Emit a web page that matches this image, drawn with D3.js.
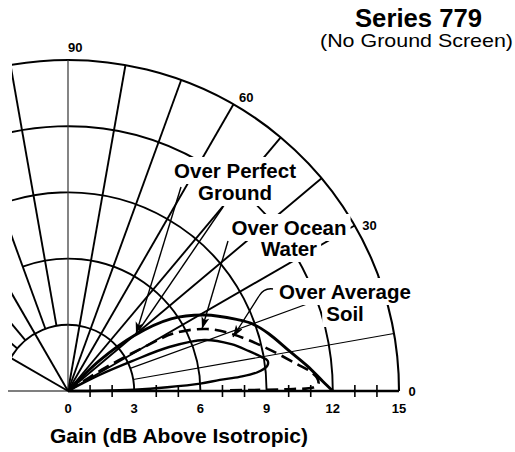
<!DOCTYPE html>
<html><head><meta charset="utf-8">
<script src="https://cdn.jsdelivr.net/npm/d3@7"></script>
<style>
body{margin:0;background:#fff}
svg{display:block}
text{font-family:"Liberation Sans",Arial,Helvetica,sans-serif;fill:#000}
</style>
</head><body>
<svg id="c" width="515" height="452"></svg>
<script>
// ---------- data ----------
const gainTicks = [0, 3, 6, 9, 12, 15];
const minorGainTicks = [1, 2, 4, 5, 7, 8, 10, 11, 13, 14];
const ringGains = [3, 6, 9, 12, 15];
const ringMaxAngles = [150, 110, 120, 120, 100];
const spokeAngles = [10, 20, 30, 40, 50, 60, 70, 80, 90, 100, 110, 120, 130, 140, 150];
const spokeInner = [3, 3, 0, 0, 0, 0, 0, 0, 0, 3, 3, 0, 3, 3, 0];
const spokeOuter = [15, 15, 15, 15, 15, 15, 15, 15, 15, 15, 15, 15, 15, 15, 3];
const angleLabels = ["0", "30", "60", "90"];
const angleLabelAngles = [0, 30, 60, 90];

// Over Perfect Ground (solid)
const perfectAngle = [0, 2.2, 6, 10.2, 16, 20, 23, 29, 35, 40, 44, 47];
const perfectGain  = [12, 11.55, 10.9, 10.2, 9.45, 8.9, 8.3, 7.1, 5.7, 3.9, 2.0, 0];
// Over Ocean Water (dashed)
const oceanAngle = [36, 32, 30, 28.5, 24, 19, 12.2, 6.7, 4.7, 3, 1.6, 0.8, 0.5, 0.35, 0.25];
const oceanGain  = [0, 2.0, 3.9, 5.5, 6.9, 7.9, 9.2, 10.45, 11.0, 11.3, 11.35, 11.1, 10.2, 9.0, 7.3];
// Over Average Soil (solid lobe)
const soilAngle = [30, 27, 25, 23.5, 20.5, 16, 12.4, 10, 8.6, 7.2, 5.6, 4.7, 4.2, 3.2, 2.2, 1.2, 0.5, 0];
const soilGain  = [0, 1.6, 3.2, 5.0, 6.6, 7.7, 8.4, 8.9, 9.15, 9.1, 8.6, 7.8, 6.9, 6.0, 4.5, 3.0, 1.5, 0];

// ---------- layout ----------
const svg = d3.select("#c");
const O = {x: 68, y: 391};
const r = d3.scaleLinear().domain([0, 15]).range([0, 331]);
const rad = d => d * Math.PI / 180;
const PX = (g, a) => O.x + r(g) * Math.cos(rad(a));
const PY = (g, a) => O.y - r(g) * Math.sin(rad(a));

svg.append("rect").attr("width", 515).attr("height", 452).attr("fill", "#fff");
const defs = svg.append("defs");
defs.append("clipPath").attr("id", "gclip").append("rect")
  .attr("x", 12).attr("y", 0).attr("width", 503).attr("height", 452);
defs.append("marker").attr("id", "arr").attr("markerUnits", "userSpaceOnUse")
  .attr("markerWidth", 14).attr("markerHeight", 10).attr("refX", 12).attr("refY", 4)
  .attr("orient", "auto")
  .append("path").attr("d", "M0,0 L12,4 L0,8 L3,4 z").attr("fill", "#000");

const grid = svg.append("g").attr("clip-path", "url(#gclip)");

// rings
ringGains.forEach((g, i) => {
  const p = d3.path();
  p.arc(O.x, O.y, r(g), 0, -rad(ringMaxAngles[i]), true);
  grid.append("path").attr("d", p.toString()).attr("fill", "none")
    .attr("stroke", "#000").attr("stroke-width", g === 15 ? 2.1 : 1.9);
});

// spokes
spokeAngles.forEach((a, i) => {
  grid.append("line")
    .attr("x1", PX(spokeInner[i], a)).attr("y1", PY(spokeInner[i], a))
    .attr("x2", PX(spokeOuter[i], a)).attr("y2", PY(spokeOuter[i], a))
    .attr("stroke", a === 90 ? "#333" : "#000")
    .attr("stroke-width", (a === 10 || a === 20) ? 1.1 : (a === 90 ? 1.2 : 1.9));
});

// x axis
svg.append("line").attr("x1", 8).attr("x2", O.x).attr("y1", O.y).attr("y2", O.y)
  .attr("stroke", "#000").attr("stroke-width", 1.2);
svg.append("line").attr("x1", O.x).attr("x2", O.x + r(15)).attr("y1", O.y).attr("y2", O.y)
  .attr("stroke", "#000").attr("stroke-width", 2.6);
svg.selectAll(".mt").data(minorGainTicks).enter().append("line")
  .attr("x1", d => O.x + r(d)).attr("x2", d => O.x + r(d))
  .attr("y1", O.y - 6).attr("y2", O.y + 6)
  .attr("stroke", "#000").attr("stroke-width", 1.6);
svg.selectAll(".gt").data(gainTicks).enter().append("text")
  .attr("x", d => O.x + r(d)).attr("y", 413)
  .attr("text-anchor", "middle").attr("font-size", 13).attr("font-weight", "bold")
  .text(d => d);

// pattern curves
const curveOf = (angles, gains) => d3.line()
  .x((d, i) => PX(gains[i], angles[i]))
  .y((d, i) => PY(gains[i], angles[i]))
  .curve(d3.curveCatmullRom.alpha(0.5))(angles);

svg.append("path").attr("d", curveOf(perfectAngle, perfectGain))
  .attr("fill", "none").attr("stroke", "#000").attr("stroke-width", 2.9);
svg.append("path").attr("d", curveOf(oceanAngle, oceanGain))
  .attr("fill", "none").attr("stroke", "#000").attr("stroke-width", 2.6)
  .attr("stroke-dasharray", "12,6");
svg.append("path").attr("d", curveOf(soilAngle, soilGain))
  .attr("fill", "none").attr("stroke", "#000").attr("stroke-width", 2.4);

// angle labels
angleLabels.forEach((t, i) => {
  const a = angleLabelAngles[i] - (angleLabelAngles[i] > 0 ? 1.2 : 0);
  const rr = 344;
  svg.append("text")
    .attr("x", O.x + rr * Math.cos(rad(a)))
    .attr("y", O.y - rr * Math.sin(rad(a)) + 5)
    .attr("text-anchor", "middle").attr("font-size", 13).attr("font-weight", "bold")
    .text(t);
});

// curve labels with white boxes
function label(lines, cx, baselines, size) {
  const g = svg.append("g");
  const texts = lines.map((t, i) => g.append("text").attr("x", cx).attr("y", baselines[i])
    .attr("text-anchor", "middle").attr("font-size", size).attr("font-weight", "bold").text(t));
  texts.forEach(tx => {
    const b = tx.node().getBBox();
    g.insert("rect", "text").attr("x", b.x - 4).attr("y", b.y - 2)
      .attr("width", b.width + 8).attr("height", b.height + 4).attr("fill", "#fff");
  });
}
label(["Over Perfect", "Ground"], 235, [178, 200], 20.5);
label(["Over Ocean", "Water"], 289, [235, 256], 20.5);
label(["Over Average", "Soil"], 345, [299, 321], 20.5);

// leaders
const lead = (d, arrow) => svg.append("path").attr("d", d).attr("fill", "none")
  .attr("stroke", "#000").attr("stroke-width", 1.4)
  .attr("marker-end", arrow ? "url(#arr)" : null);
lead("M181,187 L136,334", true);
lead("M223,207 L139,330", false);
lead("M228,241 L202,329", true);
lead("M273,289 C266,288 262,291 259,296 L233,337", true);

// titles
svg.append("text").attr("x", 355).attr("y", 27).attr("font-size", 25).attr("font-weight", "bold")
  .attr("textLength", 127).attr("lengthAdjust", "spacingAndGlyphs").text("Series 779");
svg.append("text").attr("x", 320).attr("y", 47).attr("font-size", 19)
  .attr("textLength", 193).attr("lengthAdjust", "spacingAndGlyphs").text("(No Ground Screen)");
svg.append("text").attr("x", 50).attr("y", 443).attr("font-size", 20.5).attr("font-weight", "bold")
  .attr("textLength", 258).attr("lengthAdjust", "spacingAndGlyphs").text("Gain (dB Above Isotropic)");
</script>
</body></html>
